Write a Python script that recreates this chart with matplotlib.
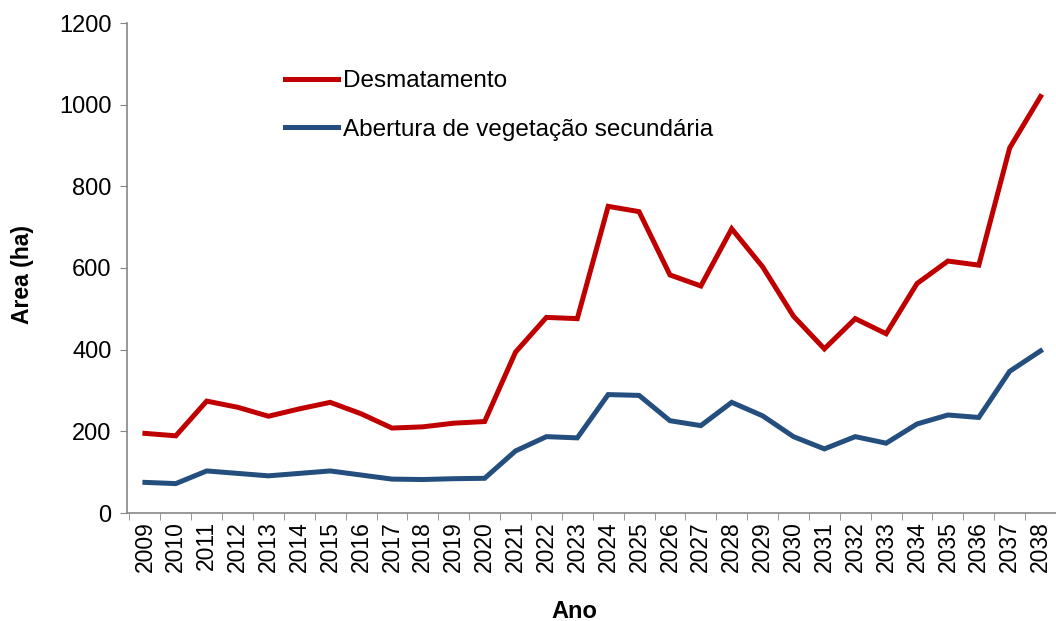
import numpy as np
import matplotlib
matplotlib.use('Agg')
import matplotlib.pyplot as plt

plt.rcParams['font.family'] = ['Liberation Sans', 'DejaVu Sans']

anos = [str(a) for a in range(2009, 2039)]

desmatamento = [195, 189, 274, 259, 237, 255, 271, 243, 208, 211,
                220, 224, 394, 479, 476, 751, 738, 583, 556, 696,
                603, 482, 402, 476, 439, 562, 617, 607, 894, 1020]

vegetacao = [75, 72, 103, 97, 91, 97, 103, 93, 83, 82,
             84, 85, 152, 187, 184, 290, 288, 226, 214, 271,
             238, 187, 157, 187, 171, 218, 240, 234, 347, 397]

fig = plt.figure(figsize=(10.56, 6.21), dpi=100)
ax = fig.add_axes([127/1056, 1 - 513/621, 1 - 127/1056, (513 - 23)/621])

x = np.arange(len(anos))
ax.plot(x, desmatamento, color='#C00000', lw=3.6, label='Desmatamento', solid_joinstyle='miter')
ax.plot(x, vegetacao, color='#244E7E', lw=3.6, label='Abertura de vegetação secundária', solid_joinstyle='miter')

ax.set_ylim(0, 1200)
ax.set_xlim(-0.58, 29.3)
ax.set_yticks(range(0, 1201, 200))
ax.set_xticks(x)
ax.set_xticklabels(anos, rotation=90, fontsize=16.5)
ax.set_xticks(np.arange(-0.5, 29.6, 1), minor=True)
ax.tick_params(axis='x', which='major', length=0, pad=6)
ax.tick_params(axis='x', which='minor', length=5, color='#868686')
ax.tick_params(axis='y', labelsize=17, length=5, color='#868686', pad=6)

for s in ['top', 'right']:
    ax.spines[s].set_visible(False)
for s in ['left', 'bottom']:
    ax.spines[s].set_color('#868686')
    ax.spines[s].set_linewidth(1.2)

fig.text(22/1056, 1 - 275/621, 'Area (ha)', rotation=90, fontsize=16.5, fontweight='bold',
         ha='center', va='center')
fig.text(574/1056, 1 - 611/621, 'Ano', fontsize=17, fontweight='bold', ha='center', va='center')

ax.legend(loc='upper left', bbox_to_anchor=(285/1056, 1 - 70/621), bbox_transform=fig.transFigure,
          frameon=False, fontsize=17.5, handlelength=2.2, handletextpad=0.2, labelspacing=1.1,
          borderpad=0, borderaxespad=0)

fig.savefig('out.png', dpi=100)
